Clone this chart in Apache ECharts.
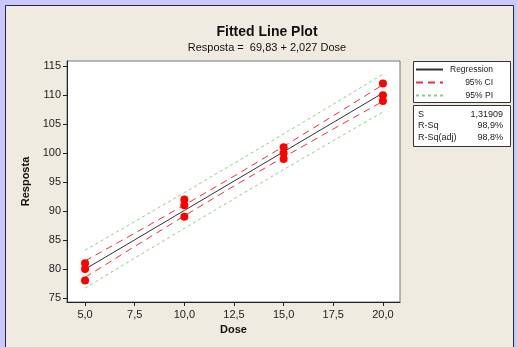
<!DOCTYPE html>
<html><head><meta charset="utf-8">
<script src="https://cdn.jsdelivr.net/npm/echarts@6/dist/echarts.min.js"></script>
<style>html,body{margin:0;padding:0;background:#c8c8fc;}#c{width:517px;height:347px;}</style>
</head><body><div id="c"></div>
<script>
// Observed data
const doseX = [5,5,5,10,10,10,15,15,15,20,20,20];
const resposta = [81,80,78,92,91,89,101,100,99,112,110,109];
// Fitted line and bands read at doses
const bandX = [5,7.5,10,12.5,15,17.5,20];
const fitY = [79.97,85.03,90.10,95.17,100.23,105.30,110.37];
const ciUpper = [81.39,86.17,91.03,96.02,101.16,106.44,111.79];
const ciLower = [78.55,83.89,89.17,94.32,99.30,104.16,108.95];
const piUpper = [83.23,88.18,93.18,98.23,103.31,108.45,113.63];
const piLower = [76.70,81.88,87.02,92.11,97.15,102.15,107.11];
const xTicks = [5,7.5,10,12.5,15,17.5,20];
const yTicks = [75,80,85,90,95,100,105,110,115];
const statNames = ['S','R-Sq','R-Sq(adj)'];
const statValues = ['1,31909','98,9%','98,8%'];

const FONT = 'Liberation Sans';
const pair = (xs, ys) => xs.map((x,i)=>[x, ys[i]]);
const chart = echarts.init(document.getElementById('c'));

const statGraphics = [];
statNames.forEach((n,i)=>{
  statGraphics.push({type:'text', left:418, top:110+i*11.5, z:10,
    style:{text:n, font:'9px '+FONT, fill:'#222'}});
  statGraphics.push({type:'text', right:14, top:110+i*11.5, z:10,
    style:{text:statValues[i], font:'9px '+FONT, fill:'#222', textAlign:'right'}});
});

chart.setOption({
  backgroundColor:'#c8c8fc',
  animation:false,
  graphic:[
    {type:'rect', shape:{x:5.5,y:5.5,width:508,height:350}, style:{fill:'#efebe1', stroke:'#2a2a2a', lineWidth:1}, z:-10},
    {type:'rect', shape:{x:413.5,y:61.5,width:97,height:41}, style:{fill:'#fff', stroke:'#333', lineWidth:1}, z:1},
    {type:'rect', shape:{x:413.5,y:105.5,width:97,height:41}, style:{fill:'#fff', stroke:'#333', lineWidth:1}, z:1},
    ...statGraphics
  ],
  title:{
    text:'Fitted Line Plot',
    subtext:'Resposta =  69,83 + 2,027 Dose',
    left:262, textAlign:'center', top:20, itemGap:3,
    textStyle:{fontFamily:FONT, fontSize:14, fontWeight:'bold', color:'#111'},
    subtextStyle:{fontFamily:FONT, fontSize:11, color:'#111'}
  },
  legend:{
    data:['Regression','95% CI','95% PI'],
    orient:'vertical', left:415, top:65, padding:0, itemWidth:27, itemHeight:10, itemGap:4,
    z:10,
    itemStyle:{opacity:0},
    formatter:'{r|{name}}',
    textStyle:{fontFamily:FONT, fontSize:8.5, color:'#222',
      rich:{r:{width:45, align:'right', fontFamily:FONT, fontSize:8.5, color:'#222'}}},
    selectedMode:false
  },
  grid:{left:67, top:61, right:117, bottom:45, show:true, backgroundColor:'#fff', borderColor:'#777', borderWidth:1},
  xAxis:{
    type:'value', min:4.09, max:20.86,
    name:'Dose', nameLocation:'middle', nameGap:22,
    nameTextStyle:{fontFamily:FONT, fontSize:11, fontWeight:'bold', color:'#111'},
    axisLine:{lineStyle:{color:'#222', width:1}},
    axisTick:{show:true, length:4, customValues:xTicks, lineStyle:{color:'#222'}},
    axisLabel:{customValues:xTicks, margin:7, fontFamily:FONT, fontSize:11, color:'#222',
      formatter:v=>v.toFixed(1).replace('.',',')},
    splitLine:{show:false}
  },
  yAxis:{
    type:'value', min:74.3, max:115.9,
    name:'Resposta', nameLocation:'middle', nameGap:33, nameRotate:90,
    nameTextStyle:{fontFamily:FONT, fontSize:11, fontWeight:'bold', color:'#111'},
    axisLine:{show:true, lineStyle:{color:'#222', width:1}},
    axisTick:{show:true, length:4, customValues:yTicks, lineStyle:{color:'#222'}},
    axisLabel:{customValues:yTicks, margin:6, fontFamily:FONT, fontSize:11, color:'#222'},
    splitLine:{show:false}
  },
  series:[
    {name:'95% PI', type:'line', data:pair(bandX,piUpper), symbol:'none', z:2,
      lineStyle:{color:'#88d088', width:1, type:[3,3]}, itemStyle:{color:'#88d088'}},
    {name:'95% PI', type:'line', data:pair(bandX,piLower), symbol:'none', z:2,
      lineStyle:{color:'#88d088', width:1, type:[3,3]}, itemStyle:{color:'#88d088'}},
    {name:'95% CI', type:'line', data:pair(bandX,ciUpper), symbol:'none', z:3,
      lineStyle:{color:'#f03030', width:1, type:[7,5]}, itemStyle:{color:'#f03030'}},
    {name:'95% CI', type:'line', data:pair(bandX,ciLower), symbol:'none', z:3,
      lineStyle:{color:'#f03030', width:1, type:[7,5]}, itemStyle:{color:'#f03030'}},
    {name:'Regression', type:'line', data:pair(bandX,fitY), symbol:'none', z:4,
      lineStyle:{color:'#333', width:1}, itemStyle:{color:'#333'}},
    {name:'Data', type:'scatter', data:pair(doseX,resposta), symbol:'circle', symbolSize:8, z:5,
      itemStyle:{color:'#ff0000', opacity:1}}
  ]
});
</script></body></html>
